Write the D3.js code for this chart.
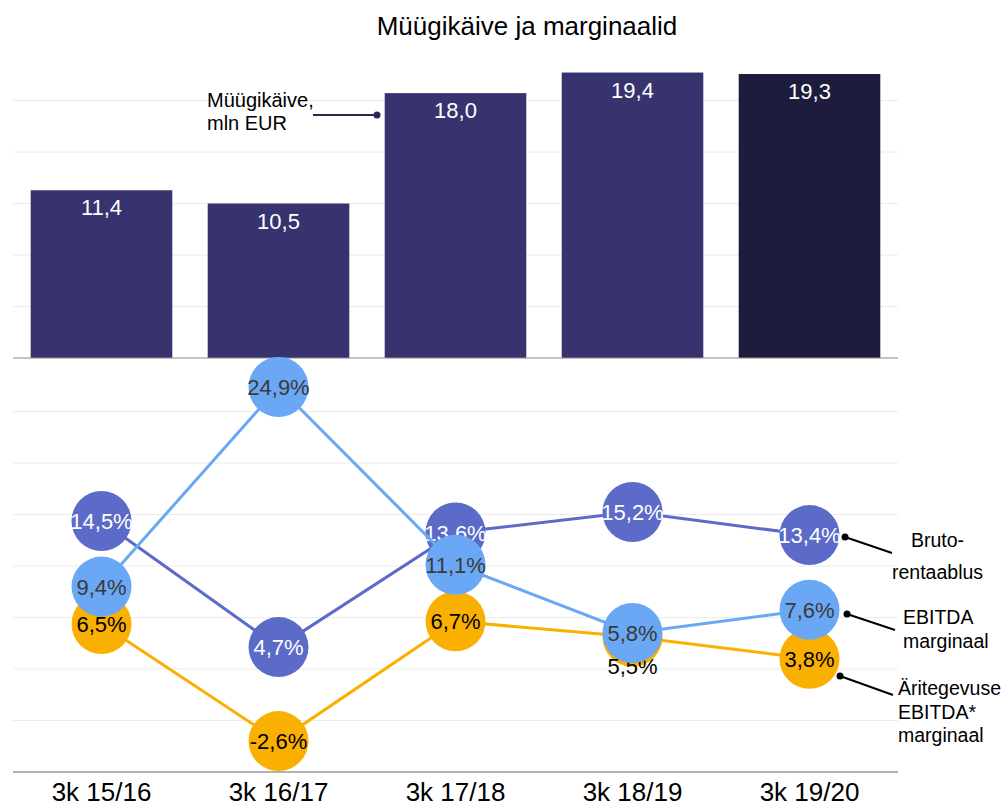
<!DOCTYPE html>
<html>
<head>
<meta charset="utf-8">
<script src="https://cdn.jsdelivr.net/npm/d3@7"></script>
<style>
  body { margin: 0; background: #fff; }
  svg { font-family: "Liberation Sans", Arial, sans-serif; }
</style>
</head>
<body>
<svg id="chart" width="1005" height="807"></svg>
<script>
// Data
const periods = ["3k 15/16", "3k 16/17", "3k 17/18", "3k 18/19", "3k 19/20"];
const revenue = [11.4, 10.5, 18.0, 19.4, 19.3];
const grossMargin = [14.5, 4.7, 13.6, 15.2, 13.4];
const ebitdaMargin = [9.4, 24.9, 11.1, 5.8, 7.6];
const opEbitdaMargin = [6.5, -2.6, 6.7, 5.5, 3.8];
const revenueTicks = [3.5, 7, 10.5, 14, 17.5];
const marginTicks = [-1, 3, 7, 11, 15, 19, 23];

const fmt = v => d3.format(".1f")(v).replace(".", ",").replace("−", "-");

const svg = d3.select("#chart");

// Scales
const x = d3.scaleBand().domain(periods).range([13, 898])
  .paddingInner(0.2).paddingOuter(0.1);
const yTop = d3.scaleLinear().domain([0, 21]).range([358, 49]);
const yBot = d3.scaleLinear().domain([-5, 27]).range([772, 360]);

// Title
svg.append("text")
  .attr("x", 527).attr("y", 35)
  .attr("text-anchor", "middle")
  .style("font-size", "26px")
  .text("Müügikäive ja marginaalid");

// Gridlines
svg.append("g").selectAll("line")
  .data(revenueTicks).join("line")
  .attr("x1", 13).attr("x2", 898)
  .attr("y1", d => yTop(d)).attr("y2", d => yTop(d))
  .attr("stroke", "#ececec");

svg.append("g").selectAll("line")
  .data(marginTicks).join("line")
  .attr("x1", 13).attr("x2", 898)
  .attr("y1", d => yBot(d)).attr("y2", d => yBot(d))
  .attr("stroke", "#ececec");

// Bars
svg.append("g").selectAll("rect")
  .data(revenue).join("rect")
  .attr("x", (d, i) => x(periods[i]))
  .attr("width", x.bandwidth())
  .attr("y", d => yTop(d))
  .attr("height", d => yTop(0) - yTop(d))
  .attr("fill", (d, i) => i === periods.length - 1 ? "#1e1c3c" : "#37336e");

svg.append("g").selectAll("text")
  .data(revenue).join("text")
  .attr("x", (d, i) => x(periods[i]) + x.bandwidth() / 2)
  .attr("y", d => yTop(d) + 25)
  .attr("text-anchor", "middle")
  .attr("fill", "#fff")
  .style("font-size", "22px")
  .text(fmt);

// Baselines
svg.append("line")
  .attr("x1", 13).attr("x2", 898)
  .attr("y1", yTop(0)).attr("y2", yTop(0))
  .attr("stroke", "#8a8a8a");
svg.append("line")
  .attr("x1", 13).attr("x2", 898)
  .attr("y1", yBot(-5)).attr("y2", yBot(-5))
  .attr("stroke", "#666");

// Revenue annotation
svg.append("line")
  .attr("x1", 313).attr("x2", 377)
  .attr("y1", 115).attr("y2", 115)
  .attr("stroke", "#2a2850").attr("stroke-width", 2);
svg.append("circle").attr("cx", 377).attr("cy", 115).attr("r", 3.5).attr("fill", "#2a2850");
svg.append("text")
  .attr("x", 207).attr("y", 107)
  .style("font-size", "20px")
  .selectAll("tspan")
  .data(["Müügikäive,", "mln EUR"]).join("tspan")
  .attr("x", 207).attr("dy", (d, i) => i ? 23 : 0)
  .text(d => d);

// Margin series (drawn in order: gross, operating EBITDA, EBITDA)
const series = [
  { values: grossMargin, color: "#5c6bc8", text: "#fff" },
  { values: opEbitdaMargin, color: "#f9b000", text: "#000" },
  { values: ebitdaMargin, color: "#6aa8f5", text: "#3a3a3a" }
];

const cx = i => x(periods[i]) + x.bandwidth() / 2;
const line = d3.line().x((d, i) => cx(i)).y(d => yBot(d));

series.forEach(s => {
  const g = svg.append("g");
  g.append("path")
    .attr("d", line(s.values))
    .attr("fill", "none")
    .attr("stroke", s.color)
    .attr("stroke-width", 3);
  g.selectAll("circle")
    .data(s.values).join("circle")
    .attr("cx", (d, i) => cx(i))
    .attr("cy", d => yBot(d))
    .attr("r", 30)
    .attr("fill", s.color);
  g.selectAll("text")
    .data(s.values).join("text")
    .attr("x", (d, i) => cx(i))
    .attr("y", d => yBot(d) + 8)
    .attr("text-anchor", "middle")
    .attr("fill", s.text)
    .style("font-size", "22px")
    .text(d => fmt(d) + "%");
});

// 5,5% label sits below the hidden circle
svg.selectAll("text")
  .filter(function () { return d3.select(this).text() === "5,5%"; })
  .attr("y", yBot(5.5) + 37)
  .raise();

// X axis labels
svg.append("g").selectAll("text")
  .data(periods).join("text")
  .attr("x", d => x(d) + x.bandwidth() / 2)
  .attr("y", 801)
  .attr("text-anchor", "middle")
  .style("font-size", "26px")
  .text(d => d);

// Right-side annotations
const notes = [
  { dot: [845, 537], end: [892, 553], lines: ["Bruto-", "rentaablus"], lx: [911, 892], ly: 547, dy: 32 },
  { dot: [847, 614], end: [895, 630], lines: ["EBITDA", "marginaal"], lx: [903, 903], ly: 624, dy: 24 },
  { dot: [840, 676], end: [893, 695], lines: ["Äritegevuse", "EBITDA*", "marginaal"], lx: [898, 898, 898], ly: 695, dy: 23.5 }
];

notes.forEach(n => {
  svg.append("line")
    .attr("x1", n.dot[0]).attr("y1", n.dot[1])
    .attr("x2", n.end[0]).attr("y2", n.end[1])
    .attr("stroke", "#000").attr("stroke-width", 2);
  svg.append("circle").attr("cx", n.dot[0]).attr("cy", n.dot[1]).attr("r", 3.5).attr("fill", "#000");
  n.lines.forEach((t, i) => {
    svg.append("text")
      .attr("x", n.lx[i]).attr("y", n.ly + i * n.dy)
      .style("font-size", "19.5px")
      .text(t);
  });
});
</script>
</body>
</html>
